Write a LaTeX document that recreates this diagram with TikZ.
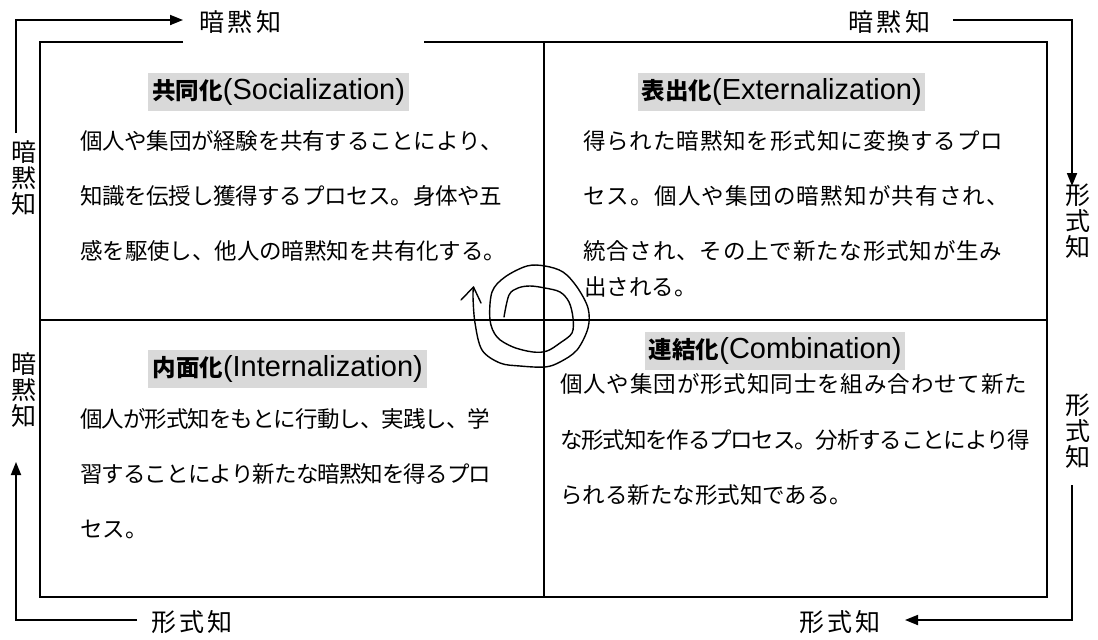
\documentclass[tikz,border=0pt]{standalone}
\usepackage{fontspec}
\setmainfont{Liberation Sans}
\newfontfamily\jp{Noto Sans CJK JP}
\usetikzlibrary{arrows.meta}
\makeatletter
\newcommand\fitline[2]{\hbox to #1{\fit@first#2\relax}}
\def\fit@first#1{#1\fit@loop}
\def\fit@loop#1{\ifx\relax#1\else\hskip 0pt plus 1fil minus 1fil\relax #1\expandafter\fit@loop\fi}
\makeatother
\newcommand\hdtext[2]{{\jp\bfseries\fontsize{23.5}{23.5}\selectfont #1}{\fontsize{29}{29}\selectfont (#2)}}
\tikzset{
  ln/.style={line width=1.8pt, line join=miter},
  arr/.style={line width=1.8pt, -{Triangle[length=13pt,width=10pt]}},
  body/.style={anchor=west, inner sep=0pt, font=\jp\fontsize{22.5}{22.5}\selectfont},
  hd/.style={anchor=west, fill=black!15, inner sep=0pt, minimum height=38pt},
  lab/.style={inner sep=0pt, font=\jp\fontsize{25}{25}\selectfont},
  vlab/.style={inner sep=0pt, align=center, font=\jp\fontsize{25}{26}\selectfont},
  spiral/.style={line width=1.4pt, line cap=round, line join=round}
}
\begin{document}
\begin{tikzpicture}[x=1pt,y=-1pt]
\fill[white] (0,0) rectangle (1098,640);
\useasboundingbox (0,0) rectangle (1098,640);

% main box
\draw[ln] (183,42) -- (40,42) -- (40,597) -- (1047,597) -- (1047,42) -- (424,42);
\draw[ln] (544,42) -- (544,597);
\draw[ln] (40,320) -- (1047,320);

% outer labels
\node[lab] (lt) at (240,22) {\fitline{82pt}{暗黙知}};
\node[lab] (rt) at (889,22) {\fitline{82pt}{暗黙知}};
\node[lab] (lb) at (192,622) {\fitline{81pt}{形式知}};
\node[lab] (rb) at (840,622) {\fitline{81pt}{形式知}};
\node[vlab] (vl1) at (24.5,178) {暗\\黙\\知};
\node[vlab] (vl2) at (24.5,390) {暗\\黙\\知};
\node[vlab] (vr1) at (1078,221) {形\\式\\知};
\node[vlab] (vr2) at (1078,431) {形\\式\\知};

% outer arrows
\coordinate (a1s) at (16,133);  \coordinate (a1e) at (183,20);
\coordinate (a2s) at (953,20);  \coordinate (a2e) at (1072,186);
\coordinate (a3s) at (1072,485); \coordinate (a3e) at (905,620);
\coordinate (a4s) at (137,620); \coordinate (a4e) at (16,462);
\draw[arr] (a1s) |- (a1e);
\draw[arr] (a2s) -| (a2e);
\draw[arr] (a3s) |- (a3e);
\draw[arr] (a4s) -| (a4e);

% spiral
\draw[spiral] plot[smooth, tension=0.55] coordinates {
 (504,317) (509,295) (518,288) (530,286) (545,288) (560,292) (569,302) (573,318)
 (572,333) (560,343) (547,351) (533,352) (513,347) (497,337) (490,320) (492,292)
 (505,277) (527,266) (545,266) (563,272) (577,287) (588,308) (588,328) (577,350)
 (560,362) (545,367) (520,366) (500,363) (482,350) (475,323) (473,297) (473.5,287)};
\draw[spiral] (461,300) -- (473.5,287) -- (481,303);

% headings
\node[hd, minimum width=261pt] (h1) at (148,92) {\hdtext{共同化}{Socialization}};
\node[hd, minimum width=287pt] (h2) at (638,92) {\hdtext{表出化}{Externalization}};
\node[hd, minimum width=279pt] (h3) at (148,369) {\hdtext{内面化}{Internalization}};
\node[hd, minimum width=260pt] (h4) at (645,351) {\hdtext{連結化}{Combination}};

% body texts
\node[body] (s1) at (80,141) {\fitline{423pt}{個人や集団が経験を共有することにより、}};
\node[body] (s2) at (80,196) {\fitline{422pt}{知識を伝授し獲得するプロセス。身体や五}};
\node[body] (s3) at (80,251) {\fitline{426pt}{感を駆使し、他人の暗黙知を共有化する。}};

\node[body] (e1) at (583,141) {\fitline{420pt}{得られた暗黙知を形式知に変換するプロ}};
\node[body] (e2) at (583,196) {\fitline{426pt}{セス。個人や集団の暗黙知が共有され、}};
\node[body] (e3) at (583,251) {\fitline{419pt}{統合され、その上で新たな形式知が生み}};
\node[body] (e4) at (584,287) {出される。};

\node[body] (i1) at (80,419) {\fitline{410pt}{個人が形式知をもとに行動し、実践し、学}};
\node[body] (i2) at (80,474) {\fitline{411pt}{習することにより新たな暗黙知を得るプロ}};
\node[body] (i3) at (80,529) {セス。};

\node[body] (c1) at (560,384) {\fitline{467pt}{個人や集団が形式知同士を組み合わせて新た}};
\node[body] (c2) at (560,440) {\fitline{470pt}{な形式知を作るプロセス。分析することにより得}};
\node[body] (c3) at (560,495) {られる新たな形式知である。};
\end{tikzpicture}
\end{document}
